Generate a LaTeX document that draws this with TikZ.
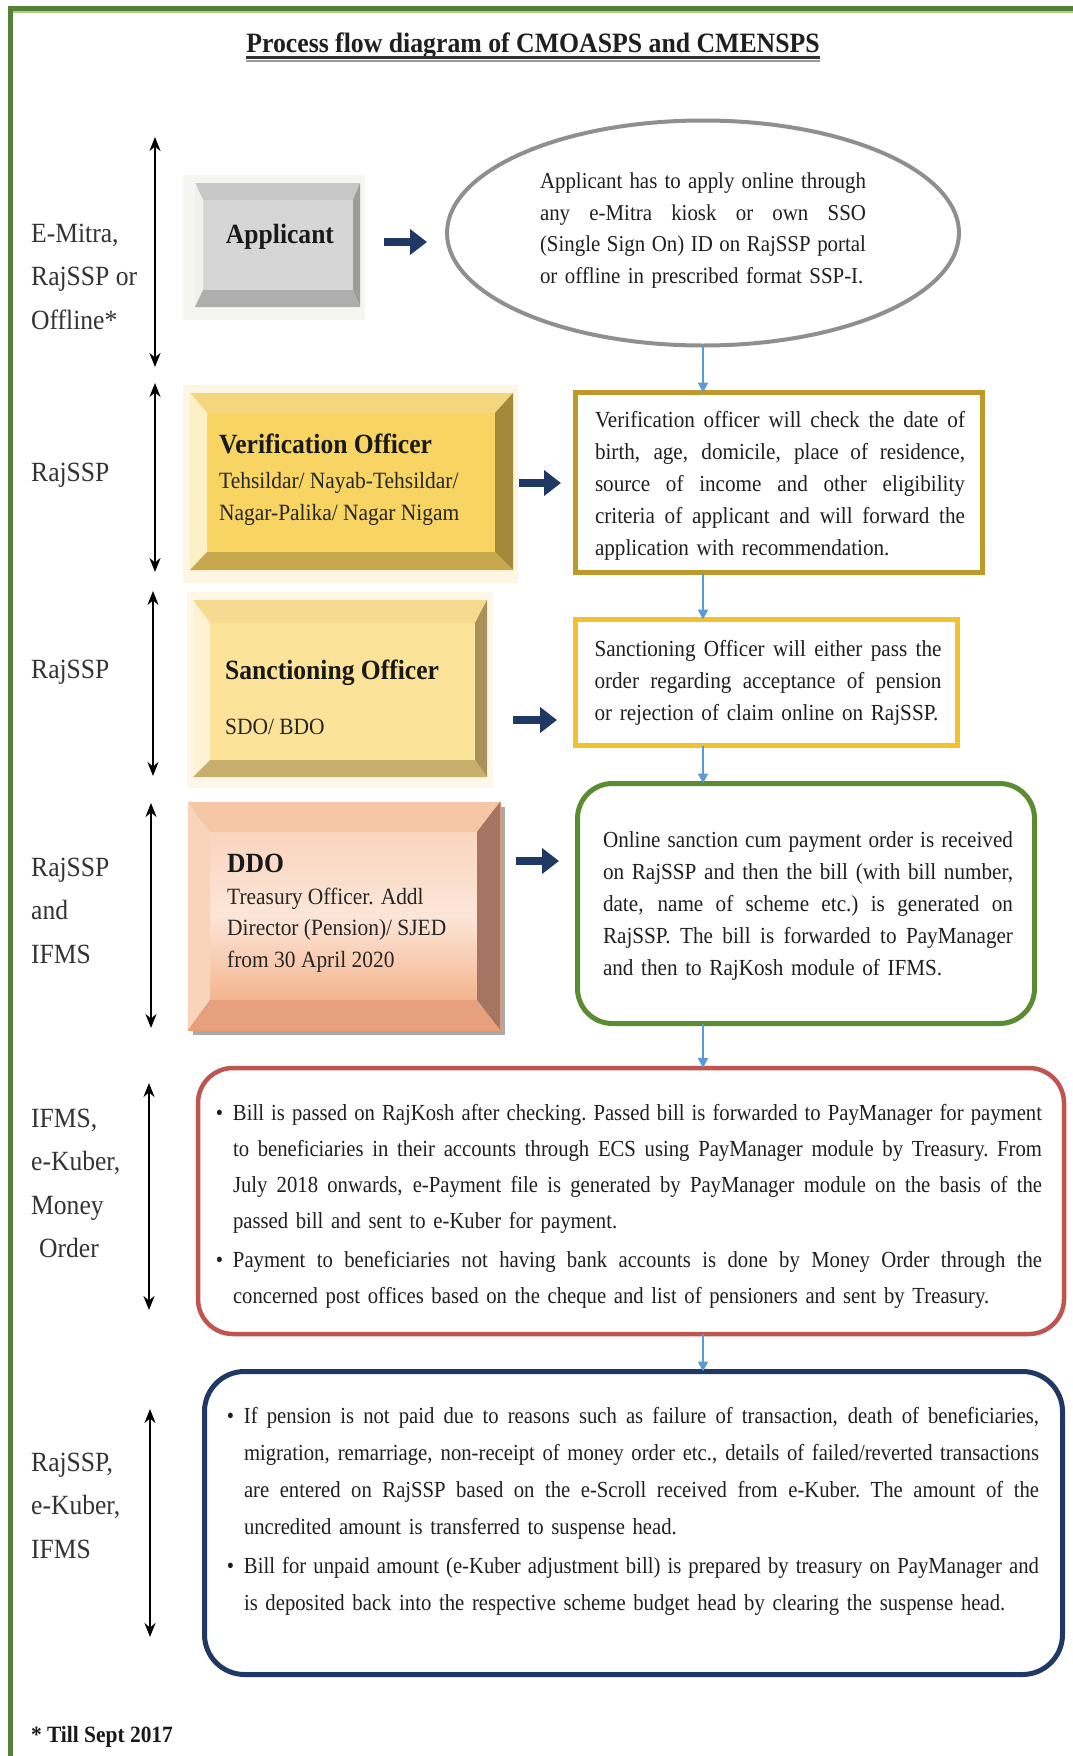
\documentclass[tikz,border=0pt]{standalone}
\usepackage{fontspec}
\setmainfont{Liberation Serif}[FakeStretch=0.92]
\newfontfamily\condfont{Liberation Serif}[FakeStretch=0.9]
\usetikzlibrary{arrows.meta,shapes.geometric,calc}

\definecolor{frameg}{HTML}{538135}
\definecolor{framegl}{HTML}{A9D08E}
\definecolor{navy}{HTML}{1F3864}
\definecolor{flowblue}{HTML}{5B9BD5}
\definecolor{ellgray}{HTML}{8F8F8F}
\definecolor{verborder}{HTML}{BF9A2B}
\definecolor{sanborder}{HTML}{F2C12E}
\definecolor{grnborder}{HTML}{5B8C32}
\definecolor{redborder}{HTML}{BE5551}
\definecolor{bluborder}{HTML}{1F3864}
% applicant
\definecolor{appglow}{HTML}{F5F5F2}
\definecolor{apptop}{HTML}{C8C8C8}
\definecolor{appleft}{HTML}{F0F0F0}
\definecolor{appright}{HTML}{9C9C9C}
\definecolor{appbot}{HTML}{AEAEAE}
\definecolor{appface}{HTML}{D6D6D6}
% verification
\definecolor{verglow}{HTML}{FCF6E2}
\definecolor{vertop}{HTML}{F3D67E}
\definecolor{verleft}{HTML}{FCF0C6}
\definecolor{verright}{HTML}{A38A3A}
\definecolor{verbot}{HTML}{C8A84C}
\definecolor{verface}{HTML}{F8D463}
% sanctioning
\definecolor{sanglow}{HTML}{FCF7E6}
\definecolor{santop}{HTML}{F4DB90}
\definecolor{sanleft}{HTML}{FDF3D4}
\definecolor{sanright}{HTML}{A8925A}
\definecolor{sanbot}{HTML}{C7AF6E}
\definecolor{sanface}{HTML}{FBE39A}
% ddo
\definecolor{ddoshadow}{HTML}{A9A9A9}
\definecolor{ddotop}{HTML}{F6C7A7}
\definecolor{ddoleft}{HTML}{F9D3BA}
\definecolor{ddoright}{HTML}{A57462}
\definecolor{ddobot}{HTML}{E7A07C}
\definecolor{ddofacetop}{HTML}{FAD5BE}
\definecolor{ddofacebot}{HTML}{F4B58F}
\definecolor{ddoborder}{HTML}{EE9A6E}

\newlength\jw
\newcommand\fs[2]{\fontsize{#1}{#2}\selectfont}
\newcommand\J[1]{\makebox[\jw][s]{\spaceskip=.25em plus 3em minus .07em\relax\xspaceskip=\spaceskip #1}}
\newcommand\La[1]{\makebox[\jw][l]{#1}}
\newcommand\vlines[1]{\vtop{\tabskip=0pt\halign{##\hfil\cr#1\crcr}}}
\newcommand\bulletmark{\llap{\textbullet\hspace{10pt}}}
\newcommand\bevelstrips[5]{%
  \fill[#2] (#1O.north west) -- (#1O.north east) -- (#1F.north east) -- (#1F.north west) -- cycle;
  \fill[#3] (#1O.north west) -- (#1F.north west) -- (#1F.south west) -- (#1O.south west) -- cycle;
  \fill[#4] (#1O.north east) -- (#1F.north east) -- (#1F.south east) -- (#1O.south east) -- cycle;
  \fill[#5] (#1O.south west) -- (#1F.south west) -- (#1F.south east) -- (#1O.south east) -- cycle;}

\tikzset{
  plain/.style={inner sep=0pt, outer sep=0pt},
  head/.style={font=\bfseries\fs{27.8}{30}, inner sep=0pt, text=black!90},
  sub/.style={font=\fs{23.3}{32.5}, inner sep=0pt, text=black!85},
  lbl/.style={font=\fs{27.8}{43.5}, inner sep=0pt, anchor=base west, text=black!80},
  desc/.style={font=\fs{23}{32}, inner sep=0pt, align=left, text=black!88},
  flow/.style={flowblue, line width=2pt, -{Triangle[length=10pt,width=10pt]}},
  bigarrow/.style={navy, line width=8pt, -{Triangle[length=17pt,width=25pt]}},
  side/.style={black, line width=2pt, {Stealth[length=14pt,width=11pt]}-{Stealth[length=14pt,width=11pt]}},
}

\begin{document}
\begin{tikzpicture}[x=1pt,y=-1pt]
\useasboundingbox (0,0) rectangle (1073,1756);
\fill[white] (0,0) rectangle (1073,1756);

% page frame
\draw[framegl, line width=2pt] (13,11.5) -- (1073,11.5);
\draw[frameg, line width=5pt] (8,8) -- (1073,8);
\draw[frameg, line width=4.5pt] (10.5,6) -- (10.5,1756);

% title
\node[plain, font=\bfseries\fs{28}{32}, anchor=base, text=black!88] (title) at (533,52) {Process flow diagram of CMOASPS and CMENSPS};
\draw[black!80, line width=3pt] ($(title.base west)+(0,5)$) -- ($(title.base east)+(0,5)$);
\draw[black!40, line width=1.5pt] ($(title.base west)+(0,9)$) -- ($(title.base east)+(0,9)$);

% left side labels
\node[lbl] (l1) at (31,242) {\vlines{E-Mitra,\cr RajSSP or\cr Offline*}};
\node[lbl] (l2) at (31,481) {RajSSP};
\node[lbl] (l3) at (31,678) {RajSSP};
\node[lbl] (l4) at (31,876) {\vlines{RajSSP\cr and\cr IFMS}};
\node[lbl] (l5) at (31,1127) {\vlines{IFMS,\cr e-Kuber,\cr Money\cr \hskip8pt Order}};
\node[lbl] (l6) at (31,1471) {\vlines{RajSSP,\cr e-Kuber,\cr IFMS}};

% side double arrows
\coordinate (s1t) at (155,137);  \coordinate (s1b) at (155,367);
\coordinate (s2t) at (155,383);  \coordinate (s2b) at (155,572);
\coordinate (s3t) at (153,591);  \coordinate (s3b) at (153,776);
\coordinate (s4t) at (151,803);  \coordinate (s4b) at (151,1028);
\coordinate (s5t) at (149,1083); \coordinate (s5b) at (149,1310);
\coordinate (s6t) at (150,1409); \coordinate (s6b) at (150,1637);
\draw[side] (s1t) -- (s1b);
\draw[side] (s2t) -- (s2b);
\draw[side] (s3t) -- (s3b);
\draw[side] (s4t) -- (s4b);
\draw[side] (s5t) -- (s5b);
\draw[side] (s6t) -- (s6b);

% Applicant bevel box
\node[plain, fill=appglow, minimum width=182pt, minimum height=145pt] (appG) at (274,247.5) {};
\node[plain, minimum width=165pt, minimum height=124pt] (appO) at (277.5,245) {};
\node[plain, fill=appface, minimum width=150pt, minimum height=90pt] (appF) at (278,245) {};
\bevelstrips{app}{apptop}{appleft}{appright}{appbot}
\node[head, anchor=base] (appT) at (280,243) {Applicant};

% Verification officer bevel box
\node[plain, fill=verglow, minimum width=335pt, minimum height=198pt] (verG) at (350.5,484) {};
\node[plain, minimum width=323pt, minimum height=177pt] (verO) at (351.5,481.5) {};
\node[plain, fill=verface, minimum width=288pt, minimum height=139pt] (verF) at (351,482.5) {};
\bevelstrips{ver}{vertop}{verleft}{verright}{verbot}
\node[head, anchor=base west] (verH) at (219,453) {Verification Officer};
\node[sub, anchor=base west] (verS) at (219,488) {\vlines{Tehsildar/ Nayab-Tehsildar/\cr Nagar-Palika/ Nagar Nigam}};

% Sanctioning officer bevel box
\node[plain, fill=sanglow, minimum width=306pt, minimum height=196pt] (sanG) at (340,690) {};
\node[plain, minimum width=294pt, minimum height=177pt] (sanO) at (340,688.5) {};
\node[plain, fill=sanface, minimum width=265pt, minimum height=137pt] (sanF) at (342.5,691.5) {};
\bevelstrips{san}{santop}{sanleft}{sanright}{sanbot}
\node[head, anchor=base west] (sanH) at (225,679) {Sanctioning Officer};
\node[sub, anchor=base west] (sanS) at (225,734) {SDO/ BDO};

% DDO bevel box
\node[plain, fill=ddoshadow, minimum width=312pt, minimum height=228pt] (ddoSh) at (349,921) {};
\node[plain, draw=ddoborder, line width=1pt, minimum width=312pt, minimum height=228pt] (ddoO) at (344,916) {};
\node[plain, top color=ddofacetop, bottom color=ddofacebot, middle color=ddofacetop!60!white, minimum width=267pt, minimum height=168pt] (ddoF) at (343.5,916) {};
\bevelstrips{ddo}{ddotop}{ddoleft}{ddoright}{ddobot}
\node[head, anchor=base west] (ddoH) at (227,872) {DDO};
\node[sub, font=\fs{23.3}{31.5}, anchor=base west] (ddoS) at (227,904) {\vlines{Treasury Officer. Addl\cr Director (Pension)/ SJED\cr from 30 April 2020}};

% right-hand description shapes
\node[plain, ellipse, draw=ellgray, line width=4pt, minimum width=512pt, minimum height=225pt] (ell) at (703,233) {};
\node[desc, text width=326pt, font=\fs{22.7}{31.4}] (ellT) at (703,230.5) {\setlength\jw{326pt}\J{Applicant has to apply online through}\\ \J{any e-Mitra kiosk or own SSO}\\ \J{(Single Sign On) ID on RajSSP portal}\\ \La{or offline in prescribed format SSP-I.}};

\node[plain, draw=verborder, line width=5pt, minimum width=407pt, minimum height=180pt] (ver) at (779,482.5) {};
\node[desc, text width=370pt] (verT) at (780,486) {\setlength\jw{370pt}\J{Verification officer will check the date of}\\ \J{birth, age, domicile, place of residence,}\\ \J{source of income and other eligibility}\\ \J{criteria of applicant and will forward the}\\ \La{application with recommendation.}};

\node[plain, draw=sanborder, line width=5pt, minimum width=382pt, minimum height=126pt] (san) at (766.5,682.5) {};
\node[desc, text width=347pt] (sanT) at (768,683) {\setlength\jw{347pt}\J{Sanctioning Officer will either pass the}\\ \J{order regarding acceptance of pension}\\ \La{or rejection of claim online on RajSSP.}};

\node[plain, draw=grnborder, line width=5pt, rounded corners=35pt, minimum width=457pt, minimum height=240pt] (grn) at (806,903.5) {};
\node[desc, text width=410pt] (grnT) at (808,906) {\setlength\jw{410pt}\J{Online sanction cum payment order is received}\\ \J{on RajSSP and then the bill (with bill number,}\\ \J{date, name of scheme etc.) is generated on}\\ \J{RajSSP. The bill is forwarded to PayManager}\\ \La{and then to RajKosh module of IFMS.}};

\node[plain, draw=redborder, line width=4.5pt, rounded corners=35pt, minimum width=866pt, minimum height=266pt] (red) at (631,1201) {};
\node[desc, font=\condfont\fs{23}{36}, text width=809pt] (redT) at (637.5,1206) {\setlength\jw{809pt}\J{\bulletmark Bill is passed on RajKosh after checking. Passed bill is forwarded to PayManager for payment}\\ \J{to beneficiaries in their accounts through ECS using PayManager module by Treasury. From}\\ \J{July 2018 onwards, e-Payment file is generated by PayManager module on the basis of the}\\ \La{passed bill and sent to e-Kuber for payment.}\\[3pt] \J{\bulletmark Payment to beneficiaries not having bank accounts is done by Money Order through the}\\ \La{concerned post offices based on the cheque and list of pensioners and sent by Treasury.}};

\node[plain, draw=bluborder, line width=5pt, rounded corners=40pt, minimum width=858pt, minimum height=303pt] (blu) at (633.5,1523) {};
\node[desc, font=\condfont\fs{23}{37}, text width=795pt] (bluT) at (641.5,1511.5) {\setlength\jw{795pt}\J{\bulletmark If pension is not paid due to reasons such as failure of transaction, death of beneficiaries,}\\ \J{migration, remarriage, non-receipt of money order etc., details of failed/reverted transactions}\\ \J{are entered on RajSSP based on the e-Scroll received from e-Kuber. The amount of the}\\ \La{uncredited amount is transferred to suspense head.}\\[2pt] \J{\bulletmark Bill for unpaid amount (e-Kuber adjustment bill) is prepared by treasury on PayManager and}\\ \La{is deposited back into the respective scheme budget head by clearing the suspense head.}};

% vertical flow connectors
\draw[flow] (ell.south) -- (ell.south |- ver.north);
\draw[flow] (ell.south |- ver.south) -- (ell.south |- san.north);
\draw[flow] (ell.south |- san.south) -- (ell.south |- grn.north);
\draw[flow] (ell.south |- grn.south) -- (ell.south |- red.north);
\draw[flow] (ell.south |- red.south) -- (ell.south |- blu.north);

% navy block arrows
\coordinate (a1s) at (384,242); \coordinate (a1e) at (427,242);
\coordinate (a2s) at (519,483); \coordinate (a2e) at (561,483);
\coordinate (a3s) at (513,720); \coordinate (a3e) at (557,720);
\coordinate (a4s) at (516,861); \coordinate (a4e) at (559,861);
\draw[bigarrow] (a1s) -- (a1e);
\draw[bigarrow] (a2s) -- (a2e);
\draw[bigarrow] (a3s) -- (a3e);
\draw[bigarrow] (a4s) -- (a4e);

% footnote
\node[plain, font=\bfseries\fs{23.3}{26}, anchor=base west, text=black!90] (note) at (31,1742) {* Till Sept 2017};
\end{tikzpicture}
\end{document}
